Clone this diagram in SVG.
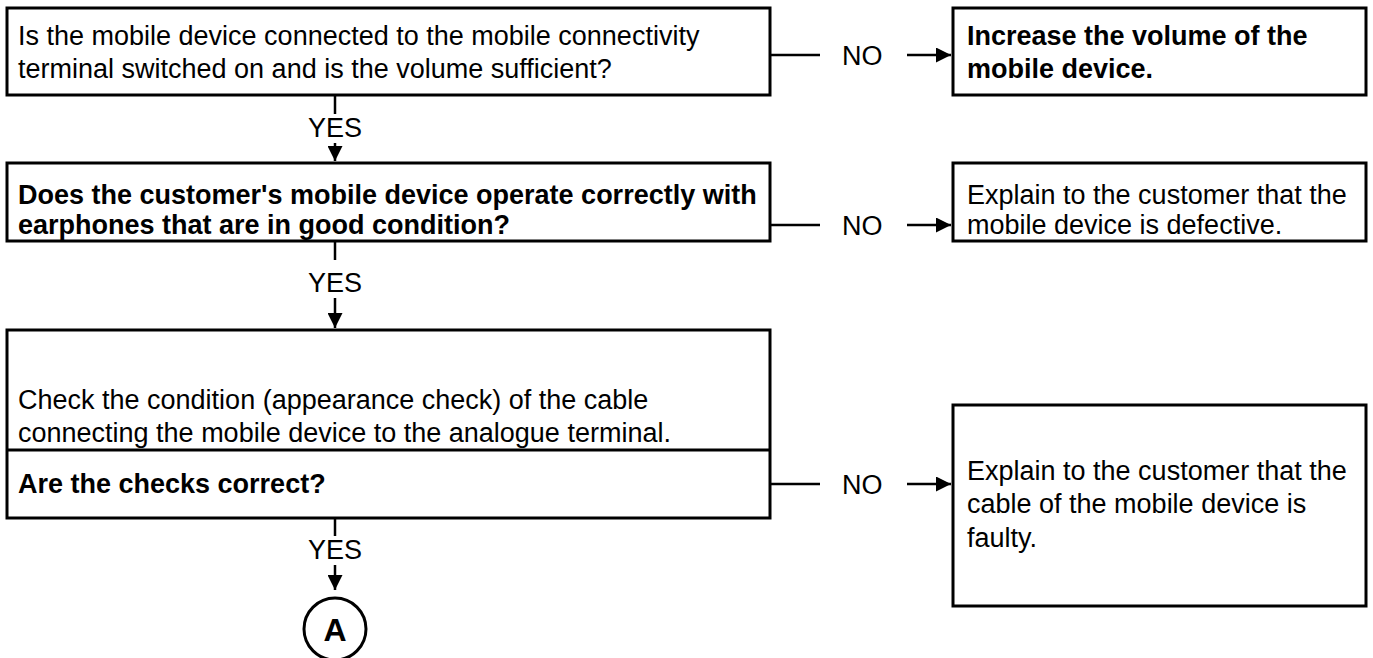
<svg xmlns="http://www.w3.org/2000/svg" width="1373" height="658" viewBox="0 0 1373 658">
<style>
.box{fill:#fff;stroke:#000;stroke-width:3}
.t{font-family:"Liberation Sans",Arial,sans-serif;font-size:27px;fill:#000}
.b{font-weight:bold}
.ln{stroke:#000;stroke-width:2.5;fill:none}
</style>
<defs>
<marker id="ah" viewBox="0 0 10 10" refX="10" refY="5" markerWidth="6" markerHeight="6" orient="auto" markerUnits="strokeWidth"><path d="M0,0 L10,5 L0,10 z" fill="#000"/></marker>
</defs>
<rect width="1373" height="658" fill="#fff"/>
<g id="q1">
<rect class="box" x="7" y="8" width="763" height="87"/>
<text class="t" x="18" y="45">Is the mobile device connected to the mobile connectivity</text>
<text class="t" x="18" y="78">terminal switched on and is the volume sufficient?</text>
</g>
<g id="r1">
<rect class="box" x="953" y="8" width="413" height="87"/>
<text class="t b" x="967" y="45">Increase the volume of the</text>
<text class="t b" x="967" y="78">mobile device.</text>
</g>
<g id="q2">
<rect class="box" x="7" y="163" width="763" height="78"/>
<text class="t b" x="18" y="204">Does the customer's mobile device operate correctly with</text>
<text class="t b" x="18" y="234">earphones that are in good condition?</text>
</g>
<g id="r2">
<rect class="box" x="953" y="163" width="413" height="78"/>
<text class="t" x="967" y="204">Explain to the customer that the</text>
<text class="t" x="967" y="234">mobile device is defective.</text>
</g>
<g id="q3">
<rect class="box" x="7" y="330" width="763" height="188"/>
<line class="ln" x1="7" y1="450" x2="770" y2="450" style="stroke-width:3"/>
<text class="t" x="18" y="409">Check the condition (appearance check) of the cable</text>
<text class="t" x="18" y="442">connecting the mobile device to the analogue terminal.</text>
<text class="t b" x="18" y="493">Are the checks correct?</text>
</g>
<g id="r3">
<rect class="box" x="953" y="405" width="413" height="201"/>
<text class="t" x="967" y="480">Explain to the customer that the</text>
<text class="t" x="967" y="513">cable of the mobile device is</text>
<text class="t" x="967" y="547">faulty.</text>
</g>
<g id="A">
<circle cx="335" cy="629" r="31" fill="#fff" stroke="#000" stroke-width="3"/>
<text class="t b" x="335" y="641" text-anchor="middle" style="font-size:32px">A</text>
</g>
<g id="connectors">
<line class="ln" x1="770" y1="55" x2="820" y2="55"/>
<text class="t" x="842" y="65">NO</text>
<line class="ln" x1="907" y1="55" x2="951" y2="55" marker-end="url(#ah)"/>
<line class="ln" x1="770" y1="225" x2="820" y2="225"/>
<text class="t" x="842" y="235">NO</text>
<line class="ln" x1="907" y1="225" x2="951" y2="225" marker-end="url(#ah)"/>
<line class="ln" x1="770" y1="484" x2="820" y2="484"/>
<text class="t" x="842" y="494">NO</text>
<line class="ln" x1="907" y1="484" x2="951" y2="484" marker-end="url(#ah)"/>
<line class="ln" x1="335" y1="95" x2="335" y2="114"/>
<text class="t" x="335" y="137" text-anchor="middle">YES</text>
<line class="ln" x1="335" y1="143" x2="335" y2="161" marker-end="url(#ah)"/>
<line class="ln" x1="335" y1="241" x2="335" y2="260"/>
<text class="t" x="335" y="292" text-anchor="middle">YES</text>
<line class="ln" x1="335" y1="298" x2="335" y2="328" marker-end="url(#ah)"/>
<line class="ln" x1="335" y1="518" x2="335" y2="536"/>
<text class="t" x="335" y="559" text-anchor="middle">YES</text>
<line class="ln" x1="335" y1="565" x2="335" y2="590" marker-end="url(#ah)"/>
</g>
</svg>
